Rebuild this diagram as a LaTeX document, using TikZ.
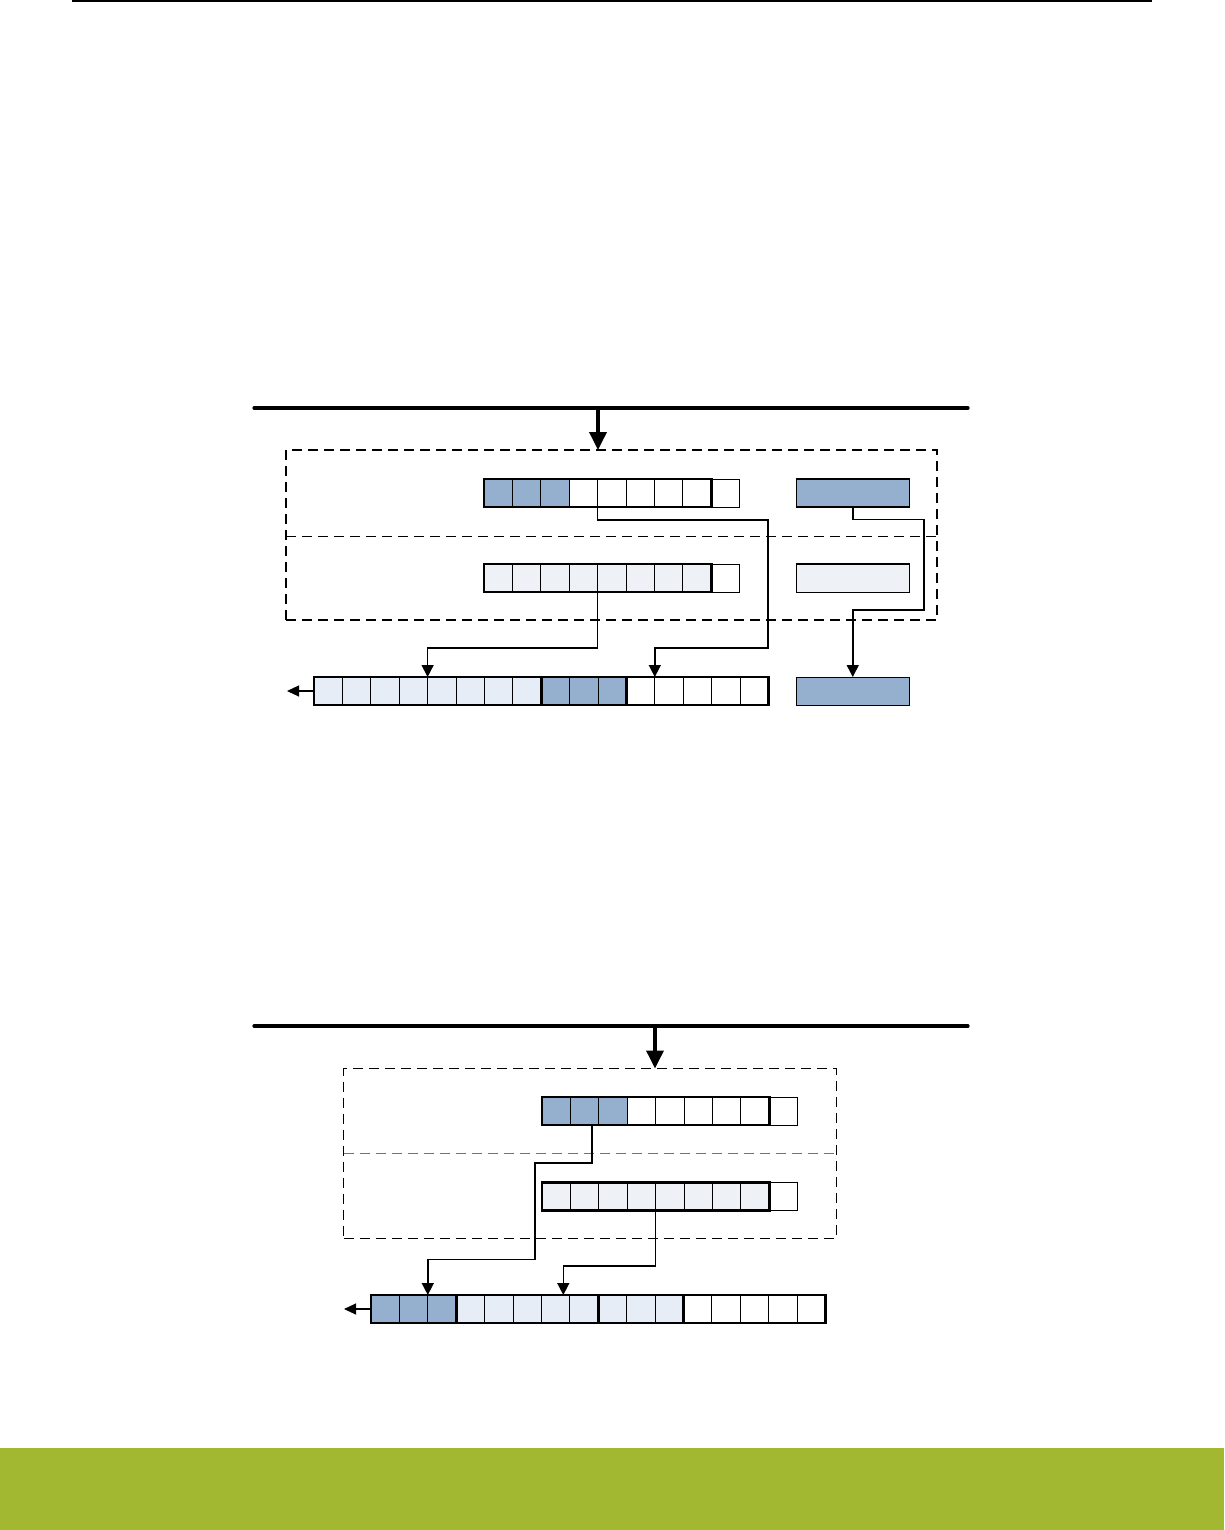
\documentclass[tikz,border=0pt]{standalone}
\usepackage{xcolor}
\usepackage{tikz}
\usetikzlibrary{arrows.meta}
\definecolor{regdark}{RGB}{149,176,207}
\definecolor{reglight}{RGB}{238,241,246}
\definecolor{outlight}{RGB}{230,237,247}
\definecolor{bandgreen}{RGB}{162,184,49}

\tikzset{
  cell/.style={draw, line width=0.9pt, minimum width=28.4pt, minimum height=28pt,
    inner sep=0pt, outer sep=0pt, anchor=north west},
  keybox/.style={draw, line width=0.9pt, minimum width=113.5pt, minimum height=28pt,
    inner sep=0pt, outer sep=0pt, anchor=north west},
  grp/.style={line width=2.6pt},
  frame/.style={draw, dash pattern=on 10pt off 6pt, line width=1.4pt,
    inner sep=0pt, outer sep=0pt, anchor=north west},
  bus/.style={line width=3.2pt, line cap=round},
  busarrow/.style={line width=3.6pt, -{Triangle[width=17pt,length=18pt]}},
  link/.style={line width=1.5pt, -{Triangle[width=12pt,length=12pt]}},
  outarrow/.style={line width=1.1pt, -{Triangle[width=11pt,length=12pt]}}
}

\begin{document}
\begin{tikzpicture}[x=1pt, y=-1pt]
\useasboundingbox (0,0) rectangle (1224,1530);
% page rule and footer band
\draw[line width=1.2pt] (72,1) -- (1152,1);
\fill[bandgreen] (0,1448) rectangle (1224,1530);

% ---- first case ----
\draw[bus] (254,408) -- (968,408);
\coordinate (tapA) at (598,408);
\node[frame, minimum width=651pt, minimum height=170pt] (frmA) at (286,450) {};
\draw[frame, line width=1pt] (frmA.west |- 0,536) -- (frmA.east |- 0,536);
\draw[busarrow] (tapA) -- (tapA |- frmA.north);
% upper register
\foreach \i in {1,...,9} {
  \ifnum\i<4 \def\cf{regdark}\else\def\cf{white}\fi
  \node[cell, fill=\cf] (ra\i) at ({484+(\i-1)*28.4},479) {};
}
\draw[grp] (ra1.north west) rectangle (ra8.south east);
% lower register
\foreach \i in {1,...,9} {
  \ifnum\i<9 \def\cf{reglight}\else\def\cf{white}\fi
  \node[cell, fill=\cf] (rb\i) at ({484+(\i-1)*28.4},564) {};
}
\draw[grp] (rb1.north west) rectangle (rb8.south east);
% side boxes
\node[keybox, fill=regdark] (ka) at (796,479) {};
\draw[grp] (ka.north west) -- (ka.north east) (ka.south west) -- (ka.south east);
\node[keybox, fill=reglight] (kb) at (796,564) {};
\draw[line width=1.8pt] (kb.north west) -- (kb.north east);
\node[keybox, fill=regdark] (kc) at (796,677) {};
% result register
\foreach \i in {1,...,16} {
  \ifnum\i<9 \def\cf{outlight}\else\ifnum\i<12 \def\cf{regdark}\else\def\cf{white}\fi\fi
  \node[cell, fill=\cf] (oa\i) at ({314+(\i-1)*28.4},677) {};
}
\draw[grp] (oa1.north west) rectangle (oa8.south east);
\draw[grp] (oa9.north west) rectangle (oa11.south east);
\draw[grp] (oa12.north west) rectangle (oa16.south east);
\coordinate (outA) at (287,691);
\draw[outarrow] (oa1.west) -- (outA);
% moves
\draw[link] (ra4.south east) |- (768,520) -- (768,648) -| (oa12.north east);
\draw[link] (rb4.south east) -- ++(0,56) -| (oa4.north east);
\draw[link] (ka.south) -- ++(0,12.5) -| (924,610) -| (kc.north);

% ---- second case ----
\draw[bus] (254,1026) -- (968,1026);
\coordinate (tapB) at (655,1026);
\node[frame, line width=1pt, minimum width=492.5pt, minimum height=170pt] (frmB) at (343.5,1068.5) {};
\draw[frame, line width=1pt, black!55] (frmB.west |- 0,1153) -- (frmB.east |- 0,1153);
\draw[busarrow] (tapB) -- (tapB |- frmB.north);
% upper register
\foreach \i in {1,...,9} {
  \ifnum\i<4 \def\cf{regdark}\else\def\cf{white}\fi
  \node[cell, fill=\cf] (rc\i) at ({542+(\i-1)*28.4},1097) {};
}
\draw[grp] (rc1.north west) rectangle (rc8.south east);
% lower register
\foreach \i in {1,...,9} {
  \ifnum\i<9 \def\cf{reglight}\else\def\cf{white}\fi
  \node[cell, fill=\cf] (rd\i) at ({542+(\i-1)*28.4},1182.5) {};
}
\draw[grp] (rd1.north west) rectangle (rd8.south east);
% result register
\foreach \i in {1,...,16} {
  \ifnum\i<4 \def\cf{regdark}\else\ifnum\i<12 \def\cf{outlight}\else\def\cf{white}\fi\fi
  \node[cell, fill=\cf] (ob\i) at ({371+(\i-1)*28.4},1295) {};
}
\draw[grp] (ob1.north west) rectangle (ob3.south east);
\draw[grp] (ob4.north west) rectangle (ob8.south east);
\draw[grp] (ob9.north west) rectangle (ob11.south east);
\draw[grp] (ob12.north west) rectangle (ob16.south east);
\coordinate (outB) at (344,1309);
\draw[outarrow] (ob1.west) -- (outB);
% moves
\draw[link] ([xshift=-7pt]rc2.south east) -- ++(0,38) -| (535,1259.5) -| (ob2.north east);
\draw[link] (rd4.south east) -- ++(0,55.5) -| ([xshift=-6.5pt]ob7.north east);
\end{tikzpicture}
\end{document}
